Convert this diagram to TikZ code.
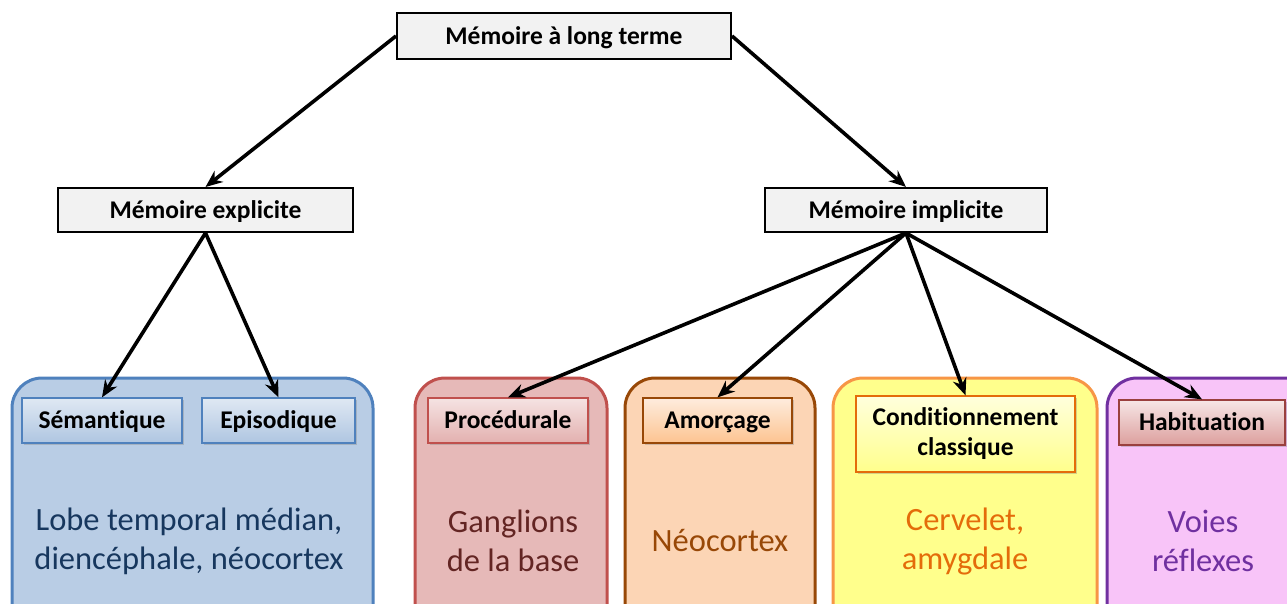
\documentclass[tikz,border=0pt]{standalone}
\usepackage{fontspec}
\setmainfont[Ligatures={NoCommon}]{Carlito}
\usetikzlibrary{shadows,arrows.meta}
\definecolor{blueFill}{HTML}{B9CDE5}
\definecolor{blueLine}{HTML}{4F81BD}
\definecolor{blueText}{HTML}{17375E}
\definecolor{redFill}{HTML}{E6B9B8}
\definecolor{redLine}{HTML}{C0504D}
\definecolor{redText}{HTML}{632523}
\definecolor{orgFill}{HTML}{FCD5B5}
\definecolor{orgLine}{HTML}{984807}
\definecolor{orgText}{HTML}{984807}
\definecolor{yelFill}{HTML}{FFFF8C}
\definecolor{yelLine}{HTML}{F79646}
\definecolor{yelText}{HTML}{E46C0A}
\definecolor{purFill}{HTML}{F8C4F8}
\definecolor{purLine}{HTML}{7030A0}
\definecolor{purText}{HTML}{7030A0}
\definecolor{boxGray}{HTML}{F2F2F2}
\tikzset{
  tbox/.style={draw=black, line width=2pt, fill=boxGray, inner sep=0pt,
    text height=21.4pt, text depth=5.1pt,
    font=\bfseries\fontsize{25.5}{29}\selectfont},
  region/.style={rounded corners=30pt, line width=3pt},
  lab/.style={line width=1.3pt, inner sep=0pt, align=center,
    drop shadow={shadow xshift=2pt, shadow yshift=-2pt, opacity=0.35},
    font=\bfseries\fontsize{25.5}{30}\selectfont},
  onel/.style={text height=21.4pt, text depth=5.1pt},
  body/.style={align=center, inner sep=0pt, font=\fontsize{32.5}{39}\selectfont},
  arr/.style={-{Stealth[length=17pt,width=14pt]}, line width=3.6pt, draw=black},
}
\begin{document}
\begin{tikzpicture}[x=1pt,y=-1pt]
\useasboundingbox (0,0) rectangle (1287,603);
\clip (0,0) rectangle (1287,603);
% regions
\draw[region, draw=blueLine, fill=blueFill] (12,378) rectangle (373,640);
\draw[region, draw=redLine, fill=redFill] (415,378) rectangle (607,640);
\draw[region, draw=orgLine, fill=orgFill] (625,378) rectangle (815,640);
\draw[region, draw=yelLine, fill=yelFill] (833,378) rectangle (1097,640);
\draw[region, draw=purLine, fill=purFill] (1107,378) rectangle (1340,640);
% top level
\node[tbox, minimum width=334pt, minimum height=46pt] (top) at (564,36) {Mémoire à long terme};
\node[tbox, minimum width=295pt, minimum height=44pt] (expl) at (205.5,210) {Mémoire explicite};
\node[tbox, minimum width=282pt, minimum height=44pt] (impl) at (906,210) {Mémoire implicite};
% labels
\node[lab, onel, draw=blueLine, top color=blueFill!45, bottom color=blueFill!90!blueLine, minimum width=160pt, minimum height=45pt] (sem) at (102,420.5) {Sémantique};
\node[lab, onel, draw=blueLine, top color=blueFill!45, bottom color=blueFill!90!blueLine, minimum width=153pt, minimum height=45pt] (epi) at (278.5,420.5) {Episodique};
\node[lab, onel, draw=redLine, top color=redFill!40!white, bottom color=redLine!45!white, minimum width=160pt, minimum height=45pt] (proc) at (508,420.5) {Procédurale};
\node[lab, onel, draw=orgLine, top color=orgFill!45, bottom color=orgFill!80!orange, minimum width=149pt, minimum height=45pt] (amor) at (717.5,420.5) {Amorçage};
\node[lab, draw=yelText, top color=yelFill!30, bottom color=yelFill, minimum width=219pt, minimum height=76pt] (cond) at (965.5,434) {Conditionnement\\classique};
\node[lab, onel, draw=redLine!80!black, top color=redFill!35, bottom color=redLine!55!white, minimum width=166pt, minimum height=45pt] (hab) at (1202,422.5) {Habituation};
% body texts
\node[body, text=blueText] (tb) at (189,541) {Lobe temporal médian,\\diencéphale, néocortex};
\node[body, text=redText] (tr) at (513,541) {Ganglions\\de la base};
\node[body, text=orgText] (to) at (720,541) {Néocortex};
\node[body, text=yelText] (ty) at (965,541) {Cervelet,\\amygdale};
\node[body, text=purText] (tp) at (1203,541) {Voies\\réflexes};
% arrows
\draw[arr] (top.west) -- (expl.north);
\draw[arr] (top.east) -- (impl.north);
\draw[arr] (expl.south) -- (sem.north);
\draw[arr] (expl.south) -- (epi.north);
\draw[arr] (impl.south) -- (proc.north);
\draw[arr] (impl.south) -- (amor.north);
\draw[arr] (impl.south) -- (cond.north);
\draw[arr] (impl.south) -- (hab.north);
\end{tikzpicture}
\end{document}
